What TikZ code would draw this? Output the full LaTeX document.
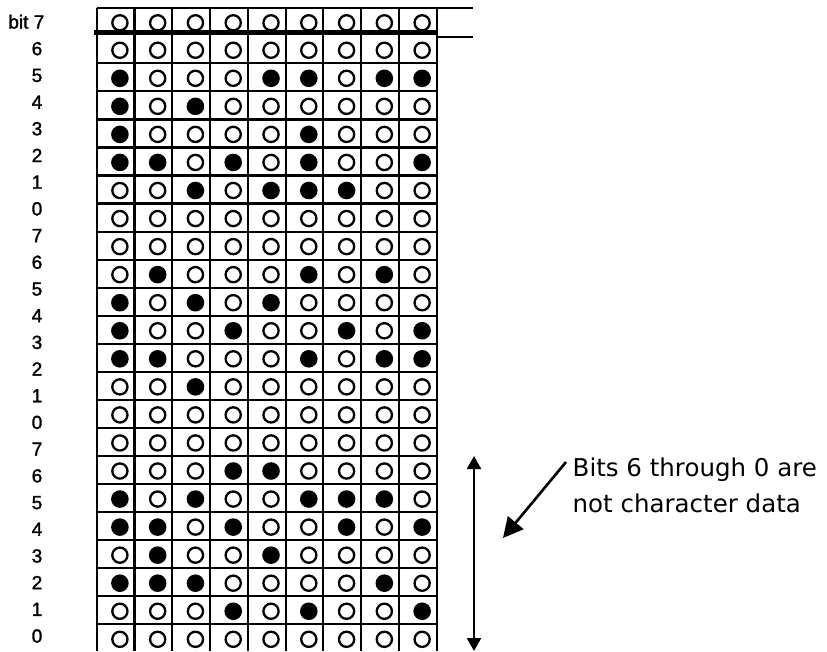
\documentclass[tikz,border=0pt]{standalone}
\usepackage{fontspec}
\setmainfont{Liberation Sans}
\newfontfamily\labelfont[FakeBold=1.6]{Liberation Sans}
\newfontfamily\notefont{DejaVu Sans}
\usetikzlibrary{arrows.meta}
\begin{document}
\begin{tikzpicture}[x=1pt,y=-1pt,
  gridline/.style={line width=2.2pt},
  thickline/.style={line width=4.2pt},
  opendot/.style={line width=2.3pt},
  fulldot/.style={fill=black},
  bitlabel/.style={inner sep=0pt,font=\labelfont\fontsize{19}{20}\selectfont,text height=13.6pt,text depth=0pt},
  notetext/.style={inner sep=0pt,anchor=base west,font=\notefont\fontsize{24.5}{30}\selectfont},
  bigarrow/.style={line width=2.6pt,-{Triangle[length=20pt,width=20pt]}},
  spanarrow/.style={line width=2.3pt,{Triangle[length=13pt,width=14pt]}-{Triangle[length=13pt,width=14pt]}}]
\useasboundingbox (0,0) rectangle (827,651);
% vertical grid lines
\foreach \j in {0,...,9}{
  \draw[gridline] ({96.7+37.78*\j},8.3) -- ({96.7+37.78*\j},651);
}
% horizontal grid lines
\draw[gridline] (96.7,8.3) -- (473.3,8.3);
\draw[thickline] (94,32.4) -- (436.7,32.4);
\draw[gridline] (436.7,36.7) -- (473.3,36.7);
\foreach \k in {2,...,22}{
  \draw[gridline] (96.7,{63.3+28.05*(\k-2)}) -- (436.7,{63.3+28.05*(\k-2)});
}
% dots
\foreach \r/\pat in {
  0/{0,0,0,0,0,0,0,0,0},
  1/{0,0,0,0,0,0,0,0,0},
  2/{1,0,0,0,1,1,0,1,1},
  3/{1,0,1,0,0,0,0,0,0},
  4/{1,0,0,0,0,1,0,0,0},
  5/{1,1,0,1,0,1,0,0,1},
  6/{0,0,1,0,1,1,1,0,0},
  7/{0,0,0,0,0,0,0,0,0},
  8/{0,0,0,0,0,0,0,0,0},
  9/{0,1,0,0,0,1,0,1,0},
  10/{1,0,1,0,1,0,0,0,0},
  11/{1,0,0,1,0,0,1,0,1},
  12/{1,1,0,0,0,1,0,1,1},
  13/{0,0,1,0,0,0,0,0,0},
  14/{0,0,0,0,0,0,0,0,0},
  15/{0,0,0,0,0,0,0,0,0},
  16/{0,0,0,1,1,0,0,0,0},
  17/{1,0,1,0,0,1,1,1,0},
  18/{1,1,0,1,0,0,1,0,1},
  19/{0,1,0,0,1,0,0,0,0},
  20/{1,1,1,0,0,0,0,1,0},
  21/{0,0,0,1,0,1,0,0,1},
  22/{0,0,0,0,0,0,0,0,0}}{
  \pgfmathsetmacro{\yy}{ifthenelse(\r==0,22.8,63.3+28.05*(\r-2)+15)}
  \foreach \v [count=\j from 0] in \pat {
    \pgfmathsetmacro{\xx}{96.7+37.78*(\j+0.5)+4.3}
    \ifnum\v=1
      \fill[fulldot] (\xx,\yy) circle (8.8);
    \else
      \draw[opendot] (\xx,\yy) circle (7.6);
    \fi
  }
}
% row labels
\node[bitlabel,anchor=east] (lb0) at (44.5,21.7) {bit 7};
\foreach \t [count=\k from 1] in {6,5,4,3,2,1,0,7,6,5,4,3,2,1,0,7,6,5,4,3,2,1,0}{
  \node[bitlabel] (lb\k) at (37,{21.7+26.7*\k}) {\t};
}
% note
\node[notetext] (note1) at (572.5,476) {Bits 6 through 0 are};
\node[notetext] (note2) at (572.5,512) {not character data};
\coordinate (nstart) at (566,462);
\coordinate (ntip) at (503,538);
\draw[bigarrow] (nstart) -- (ntip);
\coordinate (vtop) at (474,456);
\coordinate (vbot) at (474,651);
\draw[spanarrow] (vtop) -- (vbot);
\end{tikzpicture}
\end{document}
